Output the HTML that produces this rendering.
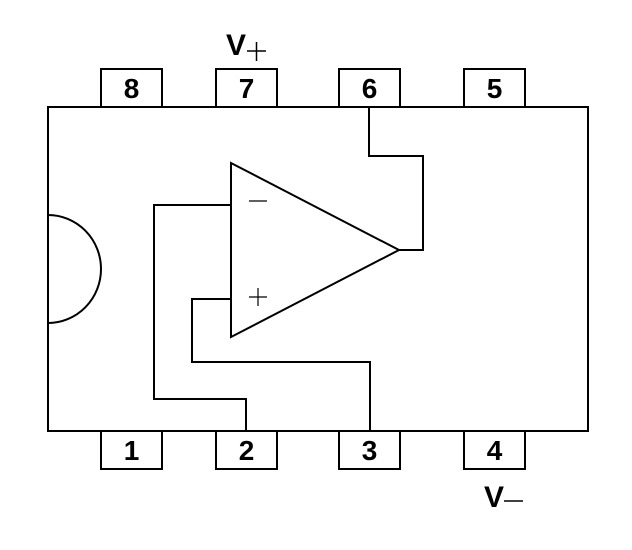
<!DOCTYPE html>
<html><head><style>html,body{margin:0;padding:0;background:#fff;}</style></head>
<body>
<svg width="632" height="545" viewBox="0 0 632 545" xmlns="http://www.w3.org/2000/svg">
<g fill="none" stroke="#000" stroke-width="2">
<rect x="48" y="107" width="540" height="324"/>
<rect x="101" y="69" width="61" height="38"/>
<rect x="216" y="69" width="61" height="38"/>
<rect x="339" y="69" width="61" height="38"/>
<rect x="464" y="69" width="61" height="38"/>
<rect x="101" y="431" width="61" height="38"/>
<rect x="216" y="431" width="61" height="38"/>
<rect x="339" y="431" width="61" height="38"/>
<rect x="464" y="431" width="61" height="38"/>
<polygon points="231,163 231,337 399,250"/>
<polyline points="369,107 369,156 423,156 423,250 399,250"/>
<polyline points="231,205 154,205 154,399 246,399 246,431"/>
<polyline points="231,299 192,299 192,362 370,362 370,431"/>
<path d="M48,215 A53,54 0 0 1 48,323"/>
<line x1="249" y1="201" x2="267" y2="201" stroke-width="1.2"/>
<line x1="249" y1="297" x2="267" y2="297" stroke-width="1.2"/>
<line x1="258" y1="288" x2="258" y2="306" stroke-width="1.2"/>
<line x1="247" y1="51" x2="266" y2="51" stroke-width="1.5"/>
<line x1="256.5" y1="42" x2="256.5" y2="61" stroke-width="1.5"/>
<line x1="504" y1="501" x2="523" y2="501" stroke-width="1.5"/>
</g>
<g font-family="Liberation Sans, sans-serif" font-weight="bold" font-size="28" text-anchor="middle" fill="#000">
<text x="131.5" y="98">8</text>
<text x="246.5" y="98">7</text>
<text x="369.5" y="98">6</text>
<text x="494.5" y="98">5</text>
<text x="131.5" y="460">1</text>
<text x="246.5" y="460">2</text>
<text x="369.5" y="460">3</text>
<text x="494.5" y="460">4</text>
<text x="236" y="55" font-size="30">V</text>
<text x="494" y="507" font-size="30">V</text>
</g>
</svg>
</body></html>
